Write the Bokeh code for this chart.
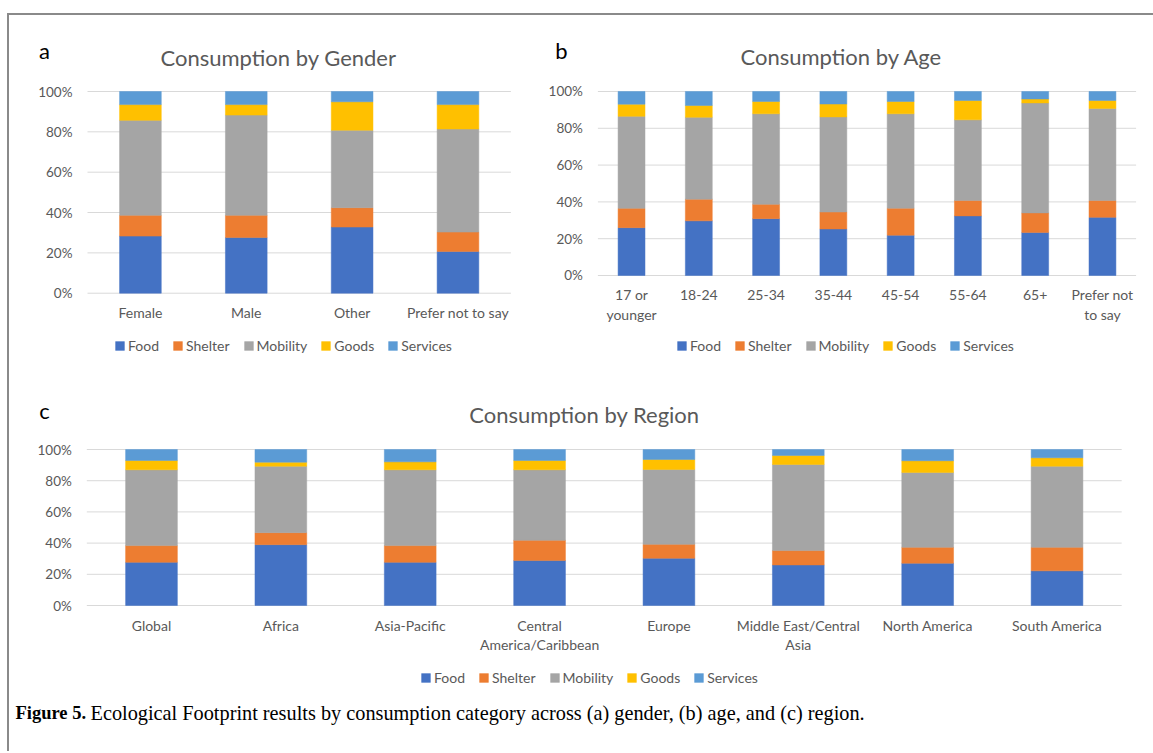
from bokeh.plotting import figure
from bokeh.models import (ColumnDataSource, Range1d, FixedTicker, NumeralTickFormatter,
                          Legend, LegendItem, Label)
from bokeh.layouts import column, row
from bokeh.embed import file_html
from bokeh.resources import INLINE

# ---------------- data ----------------
series = ["Food", "Shelter", "Mobility", "Goods", "Services"]
colors = ["#4472C4", "#ED7D31", "#A5A5A5", "#FFC000", "#5B9BD5"]

gender_cats = ["Female", "Male", "Other", "Prefer not to say"]
gender_food = [28.3, 27.6, 32.8, 20.7]
gender_shelter = [10.3, 11.0, 9.6, 9.6]
gender_mobility = [47.1, 49.7, 38.4, 51.1]
gender_goods = [7.8, 5.2, 14.1, 12.1]
gender_services = [6.5, 6.5, 5.1, 6.5]

age_cats = ["17 or younger", "18-24", "25-34", "35-44", "45-54", "55-64", "65+", "Prefer not to say"]
age_food = [26.0, 29.7, 30.9, 25.3, 21.9, 32.4, 23.4, 31.6]
age_shelter = [10.5, 11.8, 7.8, 9.2, 14.7, 8.4, 10.6, 9.2]
age_mobility = [50.0, 44.5, 49.2, 51.7, 51.3, 43.8, 59.8, 50.0]
age_goods = [6.6, 6.4, 6.7, 7.0, 6.7, 10.5, 2.1, 4.3]
age_services = [6.9, 7.6, 5.4, 6.8, 5.4, 4.9, 4.1, 4.9]

region_cats = ["Global", "Africa", "Asia-Pacific", "Central America/Caribbean", "Europe",
               "Middle East/Central Asia", "North America", "South America"]
region_food = [27.7, 39.0, 27.7, 28.8, 30.3, 26.0, 27.1, 22.2]
region_shelter = [10.7, 7.7, 10.7, 13.0, 8.9, 9.2, 10.2, 15.1]
region_mobility = [48.6, 42.6, 48.6, 45.2, 48.0, 55.2, 48.0, 52.0]
region_goods = [6.0, 2.6, 5.1, 6.0, 6.4, 5.8, 7.5, 5.4]
region_services = [7.0, 8.1, 7.9, 7.0, 6.4, 3.8, 7.2, 5.3]

y_ticks = [0, 0.2, 0.4, 0.6, 0.8, 1.0]

label_breaks = {"17 or younger": "17 or\nyounger", "Prefer not to say (age)": "Prefer not\nto say",
                "Central America/Caribbean": "Central\nAmerica/Caribbean",
                "Middle East/Central Asia": "Middle East/Central\nAsia"}

FONT = "Lato"
GRAY = "#595959"


def make_panel(cats, vals, width, height, xr, yr, bar_w, title, title_xy, letter, letter_xy,
               legend_loc, breaks=None):
    n = len(cats)
    xs = [i + 0.5 for i in range(n)]
    data = {"x": xs}
    for name, v in zip(series, vals):
        data[name] = [x / 100.0 for x in v]
    src = ColumnDataSource(data)
    p = figure(x_range=Range1d(*xr), y_range=Range1d(*yr), width=width, height=height,
               output_backend="svg", toolbar_location=None, min_border=0)
    p.title.visible = False
    p.outline_line_color = None
    p.xgrid.visible = False
    p.ygrid.visible = False

    # horizontal gridlines spanning the category area only
    p.segment(x0=[0] * len(y_ticks), x1=[n] * len(y_ticks), y0=y_ticks, y1=y_ticks,
              line_color="#D9D9D9", line_width=1)

    rs = p.vbar_stack(series, x="x", width=bar_w, color=colors, line_width=0.5, source=src)

    p.yaxis.ticker = FixedTicker(ticks=y_ticks)
    p.yaxis.formatter = NumeralTickFormatter(format="0%")
    p.yaxis.fixed_location = 0
    p.xaxis.ticker = FixedTicker(ticks=xs)
    labels = {}
    for x, c in zip(xs, cats):
        key = c + " (age)" if (breaks == "age" and c == "Prefer not to say") else c
        labels[x] = label_breaks.get(key, c)
    p.xaxis.major_label_overrides = labels
    p.xaxis.fixed_location = 0
    for ax in (p.xaxis, p.yaxis):
        ax.axis_line_color = None
        ax.major_tick_line_color = None
        ax.minor_tick_line_color = None
        ax.major_tick_out = 0
        ax.major_tick_in = 0
        ax.minor_tick_out = 0
        ax.minor_tick_in = 0
        ax.major_label_text_font = FONT
        ax.major_label_text_color = GRAY
    p.yaxis.major_label_text_font_size = "13.5px"
    p.yaxis.major_label_standoff = 15
    p.xaxis.major_label_text_font_size = "14px"
    p.xaxis.major_label_standoff = 11
    p.xaxis.major_label_text_line_height = 1.12

    items = [LegendItem(label=s, renderers=[r]) for s, r in zip(series, rs)]
    leg = Legend(items=items, orientation="horizontal", location=legend_loc,
                 glyph_width=11, glyph_height=11, label_standoff=3, spacing=13,
                 padding=0, margin=0, label_height=16,
                 label_text_font=FONT, label_text_font_size="14px", label_text_color=GRAY,
                 border_line_color=None, background_fill_alpha=0)
    p.add_layout(leg, "center")

    p.add_layout(Label(x=title_xy[0], y=title_xy[1], text=title, text_align="center",
                       text_baseline="alphabetic", text_font=FONT, text_font_size="22px",
                       text_color=GRAY))
    p.add_layout(Label(x=letter_xy[0], y=letter_xy[1], text=letter, text_align="center",
                       text_baseline="alphabetic", text_font=FONT, text_font_size="22px",
                       text_color="#000000"))
    return p


pa = make_panel(gender_cats,
                [gender_food, gender_shelter, gender_mobility, gender_goods, gender_services],
                width=531, height=360, xr=(-0.7369, 4.2796), yr=(-0.408, 1.3768), bar_w=0.394,
                title="Consumption by Gender", title_xy=(1.8045, 1.171),
                letter="a", letter_xy=(-0.406, 1.2033), legend_loc=(105, 21))

pb = make_panel(age_cats,
                [age_food, age_shelter, age_mobility, age_goods, age_services],
                width=613, height=360, xr=(-0.8532, 8.2586), yr=(-0.5435, 1.413), bar_w=0.40,
                title="Consumption by Age", title_xy=(3.621, 1.1875),
                letter="b", letter_xy=(-0.541, 1.2228), legend_loc=(136, 21), breaks="age")

pc = make_panel(region_cats,
                [region_food, region_shelter, region_mobility, region_goods, region_services],
                width=1144, height=376, xr=(-0.5976, 8.2458), yr=(-0.9359, 1.4744), bar_w=0.40,
                title="Consumption by Region", title_xy=(3.847, 1.2256),
                letter="c", letter_xy=(-0.327, 1.25), legend_loc=(411, 65))

# caption
pc.add_layout(Label(x=-0.5512, y=-0.6859, text="Figure 5.", text_font="Liberation Serif",
                    text_font_style="bold", text_font_size="18.5px", text_color="#000000",
                    text_baseline="alphabetic"))
pc.add_layout(Label(x=0.0286, y=-0.6859,
                    text="Ecological Footprint results by consumption category across (a) gender, (b) age, and (c) region.",
                    text_font="Liberation Serif", text_font_size="20.3px", text_color="#000000",
                    text_baseline="alphabetic"))

layout = column(row(pa, pb), pc,
                styles={"border-top": "2px solid #8a8a8a", "border-left": "2px solid #8a8a8a"},
                margin=(13, 0, 0, 7))

open("out.html", "w").write(file_html(layout, INLINE))
